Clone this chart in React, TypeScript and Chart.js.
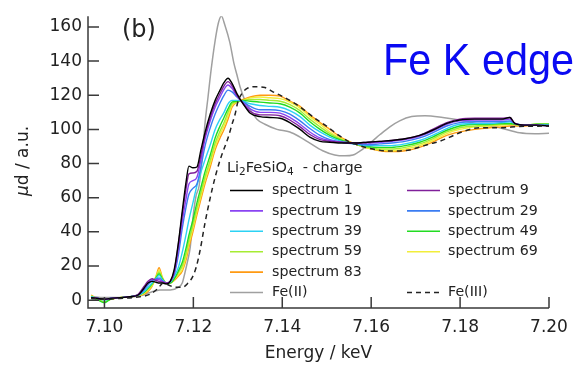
import React, { useEffect, useRef } from 'react';
import { Chart, registerables } from 'chart.js';

Chart.register(...registerables);

// ---------- data ----------
const energies = [7.0970, 7.0986, 7.1000, 7.1013, 7.1035, 7.1058, 7.1076, 7.1089, 7.1098, 7.1107,
  7.1116, 7.1123, 7.1130, 7.1139, 7.1148, 7.1157, 7.1166, 7.1175, 7.1184, 7.1190,
  7.1199, 7.1208, 7.1217, 7.1226, 7.1238, 7.1249, 7.1260, 7.1269, 7.1278, 7.1287,
  7.1298, 7.1312, 7.1328, 7.1350, 7.1372, 7.1395, 7.1417, 7.1440, 7.1462, 7.1485,
  7.1507, 7.1534, 7.1563, 7.1592, 7.1619, 7.1646, 7.1676, 7.1709, 7.1738, 7.1770,
  7.1799, 7.1833, 7.1866, 7.1893, 7.1912, 7.1923, 7.1945, 7.1972, 7.2000];

const spectrum1 = [1.5, 1.0, 0.5, 1.0, 1.5, 2, 3, 7, 10, 11,
  10.5, 10, 10, 9.5, 11, 18, 33, 52, 70, 78.5,
  77.5, 78, 88, 98, 109, 117, 123, 127.5, 130, 127,
  121, 115, 109.5, 107.5, 107, 106.5, 104, 100, 95.5, 93,
  92.5, 92, 92, 92.5, 93, 93.5, 94.5, 96.5, 99.5, 103.5,
  105.5, 106, 106, 106, 107, 103.5, 102.5, 102.5, 102];
const spectrum9 = [1.5, 1.0, 0.5, 1.0, 1.5, 2, 3.5, 8, 11, 12.5,
  11.5, 11, 10.5, 10, 11, 17, 32, 50, 66, 74,
  74.5, 75.5, 85, 96, 107, 115, 121, 125.5, 128, 125.5,
  120, 115, 110.5, 108.5, 108.5, 108, 105.5, 101.5, 97, 94,
  93, 92.5, 92, 92.5, 93, 93.5, 94.5, 96.5, 100, 104,
  106, 106.5, 106.5, 106.5, 107, 103.5, 102.5, 102.5, 102];
const spectrum19 = [1.5, 1, 0.5, 1, 1.5, 2, 3, 7, 10, 12,
  12, 12, 11, 10, 11, 16, 29, 46, 60, 68,
  70, 72, 82, 94, 105, 113, 119, 123.5, 126, 124,
  119.5, 115.5, 112, 110, 110, 109.5, 107, 103, 98.5, 95,
  93.5, 92.5, 92, 92, 92.5, 93, 94, 96, 99, 103,
  105, 105.5, 105.5, 105.5, 106, 103.5, 102.5, 102.5, 102];
const spectrum29 = [1.5, 1, 0.5, 1, 1.5, 2, 3, 6, 9, 11.5,
  12.5, 13, 11.5, 10, 11, 15, 26, 42, 55, 62,
  65.5, 68, 78, 90, 101, 109, 115.5, 120, 123, 122,
  119, 116, 113.5, 111.5, 111.5, 111, 109, 105, 100.5, 96.5,
  94, 92.5, 91.5, 91, 91.5, 92, 93, 95, 98, 102,
  104, 104.5, 104.5, 104.5, 105, 103.5, 102.5, 102.5, 102.5];
const spectrum39 = [2, 1, 0, 1, 1.5, 2, 3, 5, 7.5, 10,
  12.5, 14.5, 12, 10, 10.5, 14, 19, 28, 39, 47,
  57, 67, 75, 82, 91, 100, 106, 110, 115, 117,
  117, 116.5, 115, 114, 113.5, 113, 111, 107.5, 102.5, 98.5,
  95.5, 93, 91.5, 90.5, 90.5, 90.5, 91.5, 93.5, 96.5, 100.5,
  103, 103.5, 103.5, 104, 104.5, 103.5, 102.5, 102.5, 102.5];
const spectrum49 = [2, 0, -1.5, 0.5, 1.5, 2, 3, 4.5, 7, 9.5,
  13, 15.5, 12.5, 10, 10, 12.5, 17, 22, 31, 38,
  47, 57, 66, 75, 85, 95, 102, 107, 112, 116,
  116.5, 117, 116.5, 116, 115.5, 115, 113, 109.5, 104.5, 100,
  96.5, 93.5, 91.5, 90, 89.5, 89.5, 90.5, 92.5, 95.5, 99.5,
  102, 103, 103, 103.5, 103.5, 103, 102.5, 103, 103];
const spectrum59 = [2.5, 0.5, -1, 0.5, 1.5, 2, 3, 4.5, 6.5, 9,
  13.5, 16.5, 13, 10, 10, 12.5, 16, 20, 28, 35,
  44, 54, 63, 72, 82, 92, 99, 104, 110, 115,
  116, 117, 117.5, 117.5, 117, 116.5, 114.5, 111, 106, 101.5,
  97.5, 94, 91.5, 89.5, 88.5, 88.5, 89.5, 91.5, 94.5, 98.5,
  101, 102, 102.5, 103, 103, 103, 102.5, 103, 103];
const spectrum69 = [2.5, 0.5, -1, 0.5, 1.5, 2, 2.5, 4, 6, 8.5,
  13.5, 17.5, 13, 10, 10, 12, 15, 18, 26, 33,
  42, 52, 61, 70, 80, 90, 97, 102, 108, 114,
  116, 117, 118.5, 119, 118.5, 118, 116, 112.5, 107.5, 103,
  98.5, 94.5, 91.5, 89, 88, 87.5, 88.5, 90.5, 93.5, 97.5,
  100, 101.5, 102, 102.5, 103, 103, 102.5, 103, 103];
const spectrum83 = [3, 0.5, -1, 0.5, 1.5, 2, 2.5, 3.5, 5, 8,
  14, 19, 13.5, 10, 10, 11.5, 14, 17, 24, 31,
  40, 50, 59, 68, 78, 88, 95, 100, 106, 113,
  116, 117.5, 119, 120, 120, 119.5, 116.5, 113.5, 108.5, 104,
  100, 95, 91.5, 89, 87.5, 87, 87.5, 89.5, 92.5, 96.5,
  98.5, 100, 101, 101.5, 102, 102, 102, 102.5, 102.5];

const fe2Energies = [7.0970, 7.1000, 7.1035, 7.1080, 7.1103, 7.1125, 7.1148, 7.1166, 7.1175, 7.1181,
  7.1188, 7.1193, 7.1199, 7.1206, 7.1213, 7.1220, 7.1226, 7.1233, 7.1240, 7.1249,
  7.1256, 7.1263, 7.1271, 7.1282, 7.1291, 7.1298, 7.1305, 7.1316, 7.1327, 7.1343,
  7.1361, 7.1388, 7.1417, 7.1440, 7.1462, 7.1491, 7.1518, 7.1541, 7.1559, 7.1581,
  7.1602, 7.1620, 7.1642, 7.1664, 7.1691, 7.1721, 7.1761, 7.1799, 7.1844, 7.1889,
  7.1934, 7.1968, 7.2000];
const fe2Values = [2, 1.5, 1.5, 2.5, 4.5, 6, 6, 7.5, 10, 16,
  24, 31, 48, 61, 67, 84, 103, 119, 135, 152,
  162, 166.5, 161, 151, 139, 132, 125, 117, 112, 106,
  103, 100, 98.5, 95.5, 92, 87.5, 85, 84.5, 85, 88.5,
  93, 97, 101.5, 105, 107.5, 108, 107, 105.5, 103, 101,
  98, 97.5, 97.7];

const fe3Energies = [7.0970, 7.1000, 7.1035, 7.1080, 7.1103, 7.1121, 7.1132, 7.1143, 7.1159, 7.1175,
  7.1188, 7.1197, 7.1206, 7.1215, 7.1226, 7.1238, 7.1249, 7.1260, 7.1271, 7.1278,
  7.1287, 7.1294, 7.1300, 7.1309, 7.1321, 7.1339, 7.1361, 7.1379, 7.1399, 7.1417,
  7.1435, 7.1456, 7.1473, 7.1491, 7.1512, 7.1530, 7.1552, 7.1568, 7.1586, 7.1604,
  7.1635, 7.1664, 7.1687, 7.1709, 7.1732, 7.1754, 7.1777, 7.1799, 7.1822, 7.1844,
  7.1889, 7.1934, 7.2000];
const fe3Values = [1, 0.5, 1, 2, 3.5, 7, 10, 9, 7.5, 7.5,
  10, 13, 19, 29, 45, 60, 72, 82, 90, 95,
  103, 109, 116, 121, 124, 125, 124.5, 122, 119.5, 117,
  114, 110, 106.5, 103.5, 99.5, 96, 92.5, 91, 89.5, 88.5,
  87.4, 87.4, 88, 89.7, 91.5, 93, 95.5, 98, 100, 101,
  101, 101.7, 102];

const spectrumLabels = ['spectrum 1', 'spectrum 9', 'spectrum 19', 'spectrum 29', 'spectrum 39',
  'spectrum 49', 'spectrum 59', 'spectrum 69', 'spectrum 83'];
const spectrumColors = ['#000000', '#80209a', '#8a44f2', '#3a7cf2', '#2cd2f4',
  '#22dc22', '#a6ec32', '#f2ee3a', '#ff9a12'];
const spectrumValues = [spectrum1, spectrum9, spectrum19, spectrum29, spectrum39,
  spectrum49, spectrum59, spectrum69, spectrum83];

const xTicks = [7.10, 7.12, 7.14, 7.16, 7.18, 7.20];
const yTicks = [0, 20, 40, 60, 80, 100, 120, 140, 160];

const legendLeft = ['spectrum 1', 'spectrum 19', 'spectrum 39', 'spectrum 59', 'spectrum 83', 'Fe(II)'];
const legendRight = ['spectrum 9', 'spectrum 29', 'spectrum 49', 'spectrum 69', '', 'Fe(III)'];

const FONT = '"DejaVu Sans", sans-serif';
const TEXT = '#222222';

const overlayPlugin = {
  id: 'overlay',
  afterDraw(chart: any) {
    const ctx = chart.ctx as CanvasRenderingContext2D;
    const xs = chart.scales.x;
    const ys = chart.scales.y;
    const { left, right, top, bottom } = chart.chartArea;
    ctx.save();
    // axes with inward ticks
    ctx.strokeStyle = '#3a3a3a';
    ctx.lineWidth = 1.5;
    ctx.beginPath();
    ctx.moveTo(left, top);
    ctx.lineTo(left, bottom);
    ctx.lineTo(right, bottom);
    for (const v of xTicks) {
      const px = xs.getPixelForValue(v);
      ctx.moveTo(px, bottom);
      ctx.lineTo(px, bottom - 11);
    }
    for (const v of yTicks) {
      const py = ys.getPixelForValue(v);
      ctx.moveTo(left, py);
      ctx.lineTo(left + 11, py);
    }
    ctx.stroke();

    // y-axis title with italic mu
    ctx.save();
    ctx.fillStyle = TEXT;
    ctx.textBaseline = 'middle';
    ctx.textAlign = 'left';
    ctx.translate(24, 161);
    ctx.rotate(-Math.PI / 2);
    ctx.font = `italic 17px ${FONT}`;
    const muW = ctx.measureText('μ').width;
    ctx.font = `17px ${FONT}`;
    const restW = ctx.measureText('d / a.u.').width;
    let tx0 = -(muW + restW) / 2;
    ctx.font = `italic 17px ${FONT}`;
    ctx.fillText('μ', tx0, 0);
    ctx.font = `17px ${FONT}`;
    ctx.fillText('d / a.u.', tx0 + muW, 0);
    ctx.restore();

    // (b)
    ctx.fillStyle = TEXT;
    ctx.font = `24px ${FONT}`;
    ctx.textBaseline = 'middle';
    ctx.textAlign = 'left';
    ctx.fillText('(b)', 122, 31);

    // Fe K edge
    ctx.save();
    ctx.fillStyle = '#0a0af2';
    ctx.font = '45px "Liberation Sans", Arial, sans-serif';
    ctx.textBaseline = 'alphabetic';
    ctx.translate(383, 75);
    ctx.scale(0.92, 1);
    ctx.fillText('Fe K edge', 0, 0);
    ctx.restore();

    // legend title: Li2FeSiO4 - charge
    const ty = 168;
    let x = 227;
    const parts: [string, boolean][] = [['Li', false], ['2', true], ['FeSiO', false], ['4', true], ['  - charge', false]];
    for (const [t, sub] of parts) {
      ctx.font = sub ? `10.5px ${FONT}` : `14.5px ${FONT}`;
      ctx.fillText(t, x, sub ? ty + 4 : ty);
      x += ctx.measureText(t).width;
    }

    // legend entries
    const styleOf: Record<string, any> = {};
    chart.data.datasets.forEach((d: any) => { styleOf[d.label] = d; });
    const rowY0 = 190.5;
    const rowDy = 20.4;
    const drawCol = (labels: string[], lx: number, tx: number) => {
      labels.forEach((lab, i) => {
        if (!lab) return;
        const d = styleOf[lab];
        const y = rowY0 + i * rowDy;
        ctx.save();
        ctx.strokeStyle = d.borderColor;
        ctx.lineWidth = 1.6;
        ctx.setLineDash(d.borderDash || []);
        ctx.beginPath();
        ctx.moveTo(lx, y);
        ctx.lineTo(lx + 33, y);
        ctx.stroke();
        ctx.restore();
        ctx.fillStyle = TEXT;
        ctx.font = `14.2px ${FONT}`;
        ctx.textBaseline = 'middle';
        ctx.fillText(lab, tx, y);
      });
    };
    drawCol(legendLeft, 230, 272);
    drawCol(legendRight, 407, 448);
    ctx.restore();
  },
};

export default function App() {
  const canvasRef = useRef<HTMLCanvasElement | null>(null);

  useEffect(() => {
    if (!canvasRef.current) return;
    const toPoints = (xsArr: number[], ysArr: number[]) => xsArr.map((e, i) => ({ x: e, y: ysArr[i] }));
    const datasets: any[] = [];
    datasets.push({
      label: 'Fe(III)', data: toPoints(fe3Energies, fe3Values), borderColor: '#222222',
      borderDash: [5, 4], borderWidth: 1.5,
    });
    spectrumLabels.forEach((lab, i) => {
      datasets.push({
        label: lab, data: toPoints(energies, spectrumValues[i]), borderColor: spectrumColors[i], borderWidth: 1.4,
      });
    });
    datasets.push({
      label: 'Fe(II)', data: toPoints(fe2Energies, fe2Values), borderColor: '#a0a0a0', borderWidth: 1.5,
    });
    datasets.forEach((d) => {
      d.pointRadius = 0;
      d.fill = false;
      d.cubicInterpolationMode = 'monotone';
      d.backgroundColor = d.borderColor;
    });

    const tickFont = { family: FONT, size: 17 };
    const chart = new Chart(canvasRef.current, {
      type: 'line',
      data: { datasets },
      plugins: [overlayPlugin],
      options: {
        animation: false,
        responsive: false,
        layout: { padding: { left: 0, top: 9, right: 28, bottom: 0 } },
        plugins: { legend: { display: false }, tooltip: { enabled: false } },
        scales: {
          x: {
            type: 'linear', min: 7.0963, max: 7.2,
            afterBuildTicks: (axis: any) => { axis.ticks = xTicks.map((value) => ({ value })); },
            afterFit: (s: any) => { s.height = 58; },
            ticks: {
              callback: (v: any) => Number(v).toFixed(2), font: tickFont, color: TEXT,
              padding: 9, maxRotation: 0, autoSkip: false,
            },
            grid: { display: false, drawTicks: false },
            border: { display: false },
            title: {
              display: true, text: 'Energy / keV', color: TEXT,
              font: { family: FONT, size: 17, lineHeight: 1.2 }, padding: { top: 0, bottom: 2 },
            },
          },
          y: {
            type: 'linear', min: -4.6, max: 166.3,
            afterBuildTicks: (axis: any) => { axis.ticks = yTicks.map((value) => ({ value })); },
            afterFit: (s: any) => { s.width = 88; },
            ticks: { font: tickFont, color: TEXT, padding: 6, autoSkip: false },
            grid: { display: false, drawTicks: false },
            border: { display: false },
            title: { display: false },
          },
        },
      },
    });
    return () => chart.destroy();
  }, []);

  return (
    <div style={{ position: 'fixed', left: 0, top: 0, width: 577, height: 366, background: '#ffffff' }}>
      <canvas ref={canvasRef} width={577} height={366} style={{ display: 'block' }} />
    </div>
  );
}
